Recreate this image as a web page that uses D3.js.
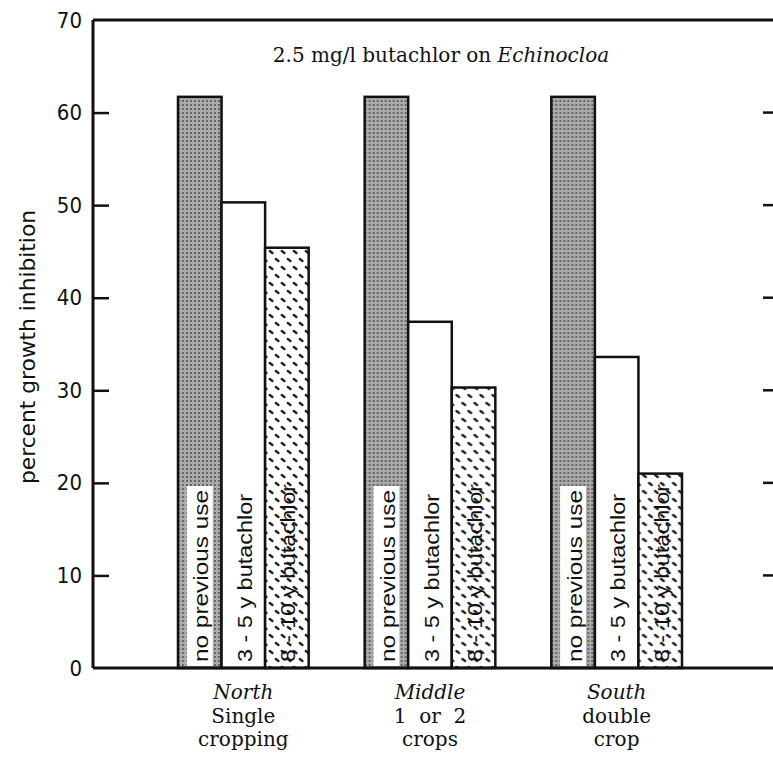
<!DOCTYPE html>
<html>
<head>
<meta charset="utf-8">
<script src="https://cdn.jsdelivr.net/npm/d3@7"></script>
<style>
  body { margin: 0; background: #fff; }
  svg { display: block; }
</style>
</head>
<body>
<div class="chart"></div>
<script>
//data
const regions = ["North", "Middle", "South"];
const regionLines = [["Single", "cropping"], ["1  or  2", "crops"], ["double", "crop"]];
const series = ["no previous use", "3 - 5 y butachlor", "8 - 10 y butachlor"];
const noPreviousUse = [61.7, 61.7, 61.7];
const threeToFive = [50.3, 37.4, 33.6];
const eightToTen = [45.4, 30.3, 21.0];
const yTicks = [0, 10, 20, 30, 40, 50, 60, 70];

const width = 773;
const height = 762;
const plotLeft = 93, plotRight = 773, plotTop = 20, plotBottom = 668;

const svg = d3.select(".chart")
    .append("svg")
    .attr("width", width)
    .attr("height", height);

//patterns for the scanned look
const defs = svg.append("defs");
const stipple = defs.append("pattern")
    .attr("id", "stipple")
    .attr("patternUnits", "userSpaceOnUse")
    .attr("width", 4)
    .attr("height", 4);
stipple.append("rect").attr("width", 4).attr("height", 4).attr("fill", "#ababab");
stipple.append("rect").attr("width", 2).attr("height", 2).attr("fill", "#666");

//staggered rows of short "\" dashes
const dashes = defs.append("pattern")
    .attr("id", "dashes")
    .attr("patternUnits", "userSpaceOnUse")
    .attr("width", 12)
    .attr("height", 16);
dashes.append("rect").attr("width", 12).attr("height", 16).attr("fill", "#fff");
dashes.append("path")
    .attr("d", "M1.8,3 L4.4,5 M7.8,11 L10.4,13")
    .attr("stroke", "#222")
    .attr("stroke-width", 2.4)
    .attr("stroke-linecap", "round");

const fills = ["url(#stipple)", "#fff", "url(#dashes)"];
const values = [noPreviousUse, threeToFive, eightToTen];

const y = d3.scaleLinear().domain([0, 70]).range([plotBottom, plotTop]);
const x0 = d3.scaleBand().domain(regions).range([150, 710]).paddingInner(0.3).paddingOuter(0.15);
const x1 = d3.scaleBand().domain(series).range([0, x0.bandwidth()]);

//bars
const group = svg.selectAll("g.region")
    .data(regions)
    .enter()
    .append("g")
    .attr("class", "region")
    .attr("transform", d => `translate(${x0(d)},0)`);

const bar = group.selectAll("g.bar")
    .data((r, ri) => series.map((s, si) => ({series: s, si: si, value: values[si][ri]})))
    .enter()
    .append("g")
    .attr("class", "bar");

bar.append("rect")
    .attr("x", d => x1(d.series))
    .attr("y", d => y(d.value))
    .attr("width", x1.bandwidth())
    .attr("height", d => y(0) - y(d.value))
    .attr("fill", d => fills[d.si])
    .attr("stroke", "#111")
    .attr("stroke-width", 2.5);

//white box behind label on the stippled bar
const labelLen = [172, 168, 178];
bar.filter(d => d.si === 0)
    .append("rect")
    .attr("x", d => x1(d.series) + x1.bandwidth() / 2 - 13)
    .attr("y", y(0) - 6 - labelLen[0] - 4)
    .attr("width", 26)
    .attr("height", labelLen[0] + 8)
    .attr("fill", "#fff");

bar.append("text")
    .attr("transform", d => `translate(${x1(d.series) + x1.bandwidth() / 2 + 1},${y(0) - 6}) rotate(-90)`)
    .attr("dominant-baseline", "central")
    .attr("textLength", d => labelLen[d.si])
    .attr("lengthAdjust", "spacingAndGlyphs")
    .style("font-family", "Liberation Sans Narrow, Liberation Sans, sans-serif")
    .style("font-size", "21px")
    .attr("fill", "#111")
    .text(d => d.series);

//frame
svg.append("line").attr("x1", plotLeft).attr("x2", plotRight).attr("y1", plotTop).attr("y2", plotTop)
    .attr("stroke", "#111").attr("stroke-width", 3);
svg.append("line").attr("x1", plotLeft).attr("x2", plotRight).attr("y1", plotBottom).attr("y2", plotBottom)
    .attr("stroke", "#111").attr("stroke-width", 3);

//left axis, ticks inward
const yAxis = svg.append("g")
    .attr("transform", `translate(${plotLeft},0)`)
    .call(d3.axisRight(y).tickValues(yTicks).tickSize(16).tickFormat(""));
yAxis.select(".domain").attr("stroke", "#111").attr("stroke-width", 3).attr("d", `M0,${plotBottom}V${plotTop}`);
yAxis.selectAll(".tick line").attr("stroke", "#111").attr("stroke-width", 2.5);
yAxis.selectAll(".tick").filter(d => d === 0 || d === 70).select("line").remove();

svg.append("g")
    .selectAll("text")
    .data(yTicks)
    .enter()
    .append("text")
    .attr("x", 82)
    .attr("y", d => y(d))
    .attr("text-anchor", "end")
    .attr("dominant-baseline", "central")
    .style("font-family", "DejaVu Sans Condensed, DejaVu Sans, sans-serif")
    .style("font-size", "22px")
    .attr("fill", "#111")
    .text(d => d);

//right side ticks
svg.append("g")
    .selectAll("line")
    .data(yTicks.filter(d => d > 0 && d < 70))
    .enter()
    .append("line")
    .attr("x1", plotRight - 10)
    .attr("x2", plotRight)
    .attr("y1", d => y(d))
    .attr("y2", d => y(d))
    .attr("stroke", "#111")
    .attr("stroke-width", 2.5);

//y axis title
svg.append("text")
    .attr("transform", `translate(28,347) rotate(-90)`)
    .attr("text-anchor", "middle")
    .attr("dominant-baseline", "central")
    .attr("textLength", 274)
    .attr("lengthAdjust", "spacingAndGlyphs")
    .style("font-family", "DejaVu Sans, sans-serif")
    .style("font-size", "21px")
    .attr("fill", "#111")
    .text("percent growth inhibition");

//title
const title = svg.append("text")
    .attr("x", 441)
    .attr("y", 62)
    .attr("text-anchor", "middle")
    .style("font-family", "DejaVu Serif, serif")
    .style("font-size", "20px")
    .attr("fill", "#111");
title.append("tspan").text("2.5 mg/l butachlor on ");
title.append("tspan").style("font-style", "italic").text("Echinocloa");

//category labels
const cat = svg.append("g")
    .selectAll("text")
    .data(regions)
    .enter()
    .append("text")
    .attr("text-anchor", "middle")
    .style("font-family", "DejaVu Serif, serif")
    .style("font-size", "20px")
    .attr("fill", "#111");
cat.append("tspan")
    .attr("x", d => x0(d) + x0.bandwidth() / 2)
    .attr("y", 699)
    .style("font-style", "italic")
    .text(d => d);
cat.selectAll("tspan.line")
    .data((d, i) => regionLines[i].map(t => ({t: t, r: d})))
    .enter()
    .append("tspan")
    .attr("class", "line")
    .attr("x", d => x0(d.r) + x0.bandwidth() / 2)
    .attr("y", (d, i) => 723 + i * 23)
    .style("white-space", "pre")
    .text(d => d.t);
</script>
</body>
</html>
